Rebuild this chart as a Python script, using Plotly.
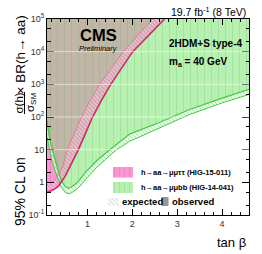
import plotly.graph_objects as go
import math

# ---------------- data ----------------
x_range = [0.1, 4.6]
y_range = [1e-1, 1e5]

# h->aa->mumubb (HIG-14-041): observed boundary of the excluded region (inner line)
green_obs_x = [0.10, 0.15, 0.22, 0.29, 0.36, 0.44, 0.50, 0.57, 0.65, 0.78, 0.98, 1.20, 1.50, 1.94, 2.60, 3.28, 4.00, 4.60]
green_obs_y = [80, 25, 10, 4.0, 2.0, 1.0, 0.75, 0.66, 0.72, 1.0, 2.2, 4.5, 10, 30, 68, 170, 380, 700]
# expected (outer line of the hatched band)
green_exp_x = [0.10, 0.15, 0.21, 0.28, 0.35, 0.42, 0.50, 0.57, 0.65, 0.80, 1.00, 1.20, 1.40, 1.65, 1.94, 2.60, 3.28, 4.00, 4.60]
green_exp_y = [25, 10, 4.5, 2.2, 1.2, 0.7, 0.5, 0.45, 0.48, 0.68, 1.4, 2.8, 5.0, 10, 18, 45, 120, 270, 490]

# h->aa->mumutautau (HIG-15-011): observed boundary
pink_obs_x = [0.10, 0.15, 0.25, 0.35, 0.50, 0.65, 0.80, 0.95, 1.10, 1.30, 1.52, 2.01, 2.72]
pink_obs_y = [0.50, 0.52, 0.60, 0.75, 1.5, 3.8, 10, 30, 90, 300, 1000, 1e4, 1e5]
# expected
pink_exp_x = [0.10, 0.20, 0.30, 0.38, 0.45, 0.55, 0.68, 0.87, 1.05, 1.27, 1.80, 2.45]
pink_exp_y = [1.0, 1.0, 1.3, 2.0, 3.0, 10, 25, 100, 300, 1000, 1e4, 1e5]

x_tickvals = [1, 2, 3, 4]
x_ticktext = ["1", "2", "3", "4"]
y_tickvals = [1e-1, 1, 10, 1e2, 1e3, 1e4, 1e5]
y_ticktext = ["10<sup>-1</sup>", "1", "10", "10<sup>2</sup>", "10<sup>3</sup>", "10<sup>4</sup>", "10<sup>5</sup>"]

# ---------------- styling ----------------
W, H = 262, 254
ML, MR, MT, MB = 47, 13, 19, 39
PW, PH = W - ML - MR, H - MT - MB
FONT = "Liberation Sans, Arial, Helvetica, sans-serif"

GREEN_FILL = "rgb(184,240,178)"
GREEN_LINE = "rgb(60,205,60)"
PINK_FILL = "rgb(250,150,210)"
PINK_LINE = "rgb(205,40,115)"
BROWN_FILL = "rgb(192,183,166)"


def paper(px, py):
    return (px - ML) / PW, (H - MB - py) / PH


def seg_intersect(ax, ay, bx, by):
    """intersection of two polylines (x linear, y log)"""
    la = [math.log10(v) for v in ay]
    lb = [math.log10(v) for v in by]
    for i in range(len(ax) - 1):
        for j in range(len(bx) - 1):
            p, r = (ax[i], la[i]), (ax[i + 1] - ax[i], la[i + 1] - la[i])
            q, s = (bx[j], lb[j]), (bx[j + 1] - bx[j], lb[j + 1] - lb[j])
            den = r[0] * s[1] - r[1] * s[0]
            if abs(den) < 1e-12:
                continue
            t = ((q[0] - p[0]) * s[1] - (q[1] - p[1]) * s[0]) / den
            u = ((q[0] - p[0]) * r[1] - (q[1] - p[1]) * r[0]) / den
            if 0 <= t <= 1 and 0 <= u <= 1:
                return p[0] + t * r[0], 10 ** (p[1] + t * r[1])
    return None


fig = go.Figure()

# green excluded region
fig.add_trace(go.Scatter(
    x=green_obs_x + [x_range[1], x_range[0]],
    y=green_obs_y + [y_range[1], y_range[1]],
    fill="toself", mode="none", fillcolor=GREEN_FILL,
    fillpattern=dict(shape="|", size=7, solidity=0.14, fgcolor="rgb(140,215,140)", bgcolor=GREEN_FILL),
    hoverinfo="skip", showlegend=False))

# pink excluded region
fig.add_trace(go.Scatter(
    x=pink_obs_x + [x_range[0]],
    y=pink_obs_y + [y_range[1]],
    fill="toself", mode="none", fillcolor=PINK_FILL,
    fillpattern=dict(shape="|", size=7, solidity=0.14, fgcolor="rgb(240,110,185)", bgcolor=PINK_FILL),
    hoverinfo="skip", showlegend=False))

# overlap region (excluded by both)
xi, yi = seg_intersect(green_obs_x, green_obs_y, pink_obs_x, pink_obs_y)
ov_x = [x_range[0]] + [x for x in green_obs_x if x < xi] + [xi] + [x for x in pink_obs_x if x > xi] + [x_range[0]]
ov_y = [y_range[1]] + [y for x, y in zip(green_obs_x, green_obs_y) if x < xi] + [yi] + \
       [y for x, y in zip(pink_obs_x, pink_obs_y) if x > xi] + [y_range[1]]
fig.add_trace(go.Scatter(
    x=ov_x, y=ov_y, fill="toself", mode="none", fillcolor=BROWN_FILL,
    fillpattern=dict(shape="|", size=7, solidity=0.14, fgcolor="rgb(160,172,140)", bgcolor=BROWN_FILL),
    hoverinfo="skip", showlegend=False))

# green expected band (hatched)
fig.add_trace(go.Scatter(
    x=green_obs_x + green_exp_x[::-1], y=green_obs_y + green_exp_y[::-1],
    fill="toself", mode="none", fillcolor="rgba(0,0,0,0)",
    fillpattern=dict(shape="\\", size=3, solidity=0.35, fgcolor=GREEN_LINE, bgcolor="rgba(255,255,255,0.65)"),
    hoverinfo="skip", showlegend=False))

# pink expected band (hatched)
fig.add_trace(go.Scatter(
    x=pink_obs_x + pink_exp_x[::-1], y=pink_obs_y + pink_exp_y[::-1],
    fill="toself", mode="none", fillcolor="rgba(0,0,0,0)",
    fillpattern=dict(shape="\\", size=3, solidity=0.35, fgcolor="rgb(215,80,140)", bgcolor="rgba(255,225,235,0.45)"),
    hoverinfo="skip", showlegend=False))

# lines
fig.add_trace(go.Scatter(x=green_exp_x, y=green_exp_y, mode="lines",
                         line=dict(color=GREEN_LINE, width=1), hoverinfo="skip", showlegend=False))
fig.add_trace(go.Scatter(x=green_obs_x, y=green_obs_y, mode="lines",
                         line=dict(color=GREEN_LINE, width=1.2), hoverinfo="skip", showlegend=False))
fig.add_trace(go.Scatter(x=pink_exp_x, y=pink_exp_y, mode="lines",
                         line=dict(color="rgb(225,110,165)", width=0.8), hoverinfo="skip", showlegend=False))
fig.add_trace(go.Scatter(x=pink_obs_x, y=pink_obs_y, mode="lines",
                         line=dict(color=PINK_LINE, width=1.6), hoverinfo="skip", showlegend=False))

# legend swatches on a pixel-space overlay axis
def box(x0, y0, x1, y1, **kw):
    fig.add_trace(go.Scatter(x=[x0, x1, x1, x0, x0], y=[y0, y0, y1, y1, y0], xaxis="x2", yaxis="y2",
                             fill="toself", mode="none", hoverinfo="skip", showlegend=False, **kw))

box(113, 167, 133, 177.5, fillcolor=PINK_FILL,
    fillpattern=dict(shape="|", size=5, solidity=0.2, fgcolor="rgb(240,110,185)", bgcolor=PINK_FILL))
box(113, 182, 133, 193, fillcolor=GREEN_FILL,
    fillpattern=dict(shape="|", size=5, solidity=0.2, fgcolor="rgb(140,215,140)", bgcolor=GREEN_FILL))
box(108, 198, 119, 205.5, fillcolor="rgba(0,0,0,0)",
    fillpattern=dict(shape="\\", size=3, solidity=0.35, fgcolor="rgb(170,170,170)", bgcolor="white"))
box(161.5, 197, 168.5, 206, fillcolor="rgb(150,150,150)")

axis_common = dict(showline=True, linecolor="black", linewidth=1, mirror="allticks",
                   ticks="inside", tickcolor="black", showgrid=False, zeroline=False,
                   tickfont=dict(family=FONT, size=9, color="#333"))

fig.update_layout(
    width=W, height=H, margin=dict(l=ML, r=MR, t=MT, b=MB),
    paper_bgcolor="white", plot_bgcolor="white",
    font=dict(family=FONT, color="black"),
    xaxis=dict(range=x_range, tickvals=x_tickvals, ticktext=x_ticktext, ticklen=6,
               minor=dict(ticks="inside", dtick=0.2, ticklen=3, tickcolor="black"),
               **axis_common),
    yaxis=dict(type="log", range=[math.log10(y_range[0]), math.log10(y_range[1])],
               tickvals=y_tickvals, ticktext=y_ticktext, ticklen=7,
               minor=dict(ticks="inside", ticklen=3.5, tickcolor="black"),
               **axis_common),
    xaxis2=dict(range=[ML, W - MR], overlaying="x", visible=False, fixedrange=True),
    yaxis2=dict(range=[H - MB, MT], overlaying="y", visible=False, fixedrange=True),
)

# faint horizontal decade lines over the fills
for v in [10, 1e2, 1e3, 1e4]:
    fig.add_shape(type="line", xref="paper", x0=0, x1=1, yref="y", y0=v, y1=v,
                  line=dict(color="rgba(255,255,255,0.55)", width=1), layer="above")


def ann(text, px, py, size, xanchor="center", yanchor="middle", angle=0, color="black"):
    x, y = paper(px, py)
    fig.add_annotation(text=text, x=x, y=y, xref="paper", yref="paper", showarrow=False,
                       xanchor=xanchor, yanchor=yanchor, textangle=angle,
                       font=dict(family=FONT, size=size, color=color))

# y-axis title built in pieces (fraction)
ann("95% CL on", 20, 192, 14, angle=-90)
ann("σ(h)", 18.5, 103, 11.5, angle=-90)
ann("σ<sub>SM</sub>", 31, 103, 11.5, angle=-90)
x0f, y0f = paper(24.5, 92)
x1f, y1f = paper(24.5, 114)
fig.add_shape(type="line", xref="paper", yref="paper", x0=x0f, x1=x1f, y0=y0f, y1=y1f,
              line=dict(color="black", width=1))
ann("× BR(h→ aa)", 19.5, 55, 13.5, angle=-90)

ann("tan β", 248, 242, 13, xanchor="right")
ann("19.7 fb<sup>-1</sup> (8 TeV)", 248, 12, 10.5, xanchor="right")
ann("<b>CMS</b>", 98.5, 35.5, 16.5)
ann("<i>Preliminary</i>", 98.5, 48.5, 7.5)
ann("<b>2HDM+S type-4</b>", 167, 43, 10, xanchor="left")
ann("<b>m<sub>a</sub> = 40 GeV</b>", 167, 62, 10, xanchor="left")
ann("<b>h→aa→μμττ (HIG-15-011)</b>", 139, 172, 7.5, xanchor="left")
ann("<b>h→aa→μμbb (HIG-14-041)</b>", 139, 187.5, 7.5, xanchor="left")
ann("<b>expected</b>", 120, 201.5, 9.5, xanchor="left")
ann("<b>observed</b>", 169.5, 201.5, 9.5, xanchor="left")

fig.write_html("out.html", config={"displayModeBar": False},
               post_script="document.body.style.margin='0';document.body.style.overflow='hidden';")
